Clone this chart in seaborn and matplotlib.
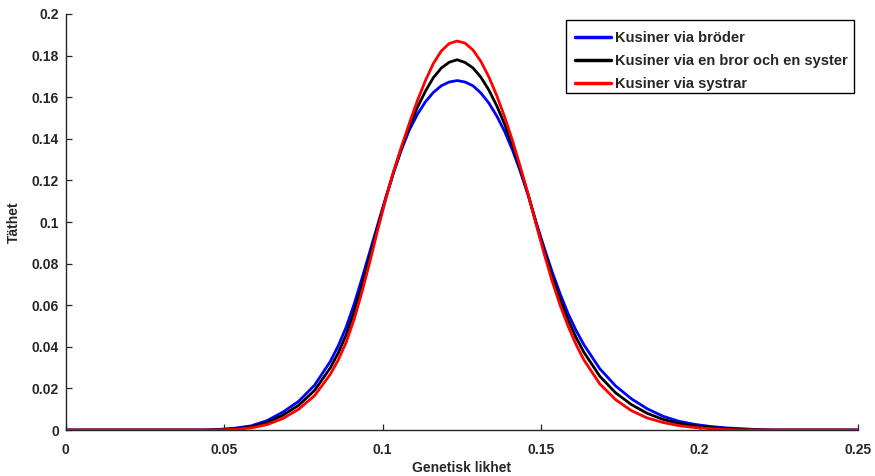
import numpy as np
import pandas as pd
import matplotlib
matplotlib.use("Agg")
import matplotlib.pyplot as plt
from matplotlib.patches import Rectangle
import seaborn as sns

# Genetic similarity grid (shared by all three curves)
x = [0.0, 0.0435, 0.0485, 0.0535, 0.0585, 0.0635, 0.0685, 0.0735, 0.0785,
     0.0835, 0.086, 0.0885, 0.091, 0.0935, 0.096, 0.0985, 0.101, 0.1035,
     0.106, 0.1085, 0.111, 0.1135, 0.116, 0.1185, 0.121, 0.1235,
     0.126, 0.1285, 0.131, 0.1335, 0.136, 0.1385, 0.141, 0.1435, 0.146,
     0.1485, 0.151, 0.1535, 0.156, 0.1585, 0.161, 0.1635,
     0.1685, 0.1735, 0.1785, 0.1835, 0.1885, 0.1935, 0.1985, 0.2035,
     0.2085, 0.2135, 0.2185, 0.2235, 0.25]

# Density for cousins through two brothers
broder = [0.0, 0.0, 0.0003, 0.0009, 0.0020, 0.0045, 0.0086, 0.0138, 0.0215,
          0.0330, 0.0405, 0.0495, 0.0605, 0.0730, 0.0860, 0.0990, 0.1118, 0.1240,
          0.1350, 0.1445, 0.1518, 0.1578, 0.1623, 0.1655, 0.1673, 0.1680,
          0.1673, 0.1655, 0.1620, 0.1572, 0.1510, 0.1435, 0.1345, 0.1240, 0.1125,
          0.0995, 0.0875, 0.0760, 0.0655, 0.0560, 0.0480, 0.0410,
          0.0295, 0.0212, 0.0150, 0.0102, 0.0066, 0.0042, 0.0027, 0.0017,
          0.0010, 0.0006, 0.0002, 0.0, 0.0]

# Density for cousins through a brother and a sister
bror_syster = [0.0, 0.0, 0.0001, 0.0006, 0.0015, 0.0036, 0.0071, 0.0119, 0.0190,
               0.0299, 0.0371, 0.0458, 0.0568, 0.0698, 0.0835, 0.0978, 0.1115, 0.1242,
               0.1358, 0.1462, 0.1552, 0.1629, 0.1694, 0.1740, 0.1768, 0.1780,
               0.1767, 0.1741, 0.1696, 0.1635, 0.1559, 0.1470, 0.1368, 0.1251, 0.1127,
               0.0990, 0.0860, 0.0738, 0.0628, 0.0530, 0.0446, 0.0374,
               0.0259, 0.0179, 0.0122, 0.0080, 0.0051, 0.0032, 0.0020, 0.0012,
               0.0006, 0.0003, 0.0001, 0.0, 0.0]

# Density for cousins through two sisters
systrar = [0.0, 0.0, 0.0, 0.0003, 0.0010, 0.0026, 0.0055, 0.0100, 0.0165,
           0.0268, 0.0337, 0.0422, 0.0532, 0.0665, 0.0810, 0.0965, 0.1112, 0.1245,
           0.1365, 0.1478, 0.1585, 0.1680, 0.1762, 0.1822, 0.1858, 0.1870,
           0.1860, 0.1827, 0.1772, 0.1698, 0.1608, 0.1505, 0.1390, 0.1262, 0.1128,
           0.0985, 0.0845, 0.0715, 0.0600, 0.0500, 0.0412, 0.0337,
           0.0222, 0.0146, 0.0093, 0.0058, 0.0036, 0.0021, 0.0012, 0.0006,
           0.0002, 0.0, 0.0, 0.0, 0.0]

labels = ["Kusiner via bröder",
          "Kusiner via en bror och en syster",
          "Kusiner via systrar"]
colors = ["#0000ff", "#000000", "#ff0000"]

x_ticks = [0, 0.05, 0.1, 0.15, 0.2, 0.25]
x_ticklabels = ["0", "0.05", "0.1", "0.15", "0.2", "0.25"]
y_ticks = [0, 0.02, 0.04, 0.06, 0.08, 0.1, 0.12, 0.14, 0.16, 0.18, 0.2]
y_ticklabels = ["0", "0.02", "0.04", "0.06", "0.08", "0.1", "0.12",
                "0.14", "0.16", "0.18", "0.2"]

df = pd.concat([
    pd.DataFrame({"x": x, "y": vals, "grupp": lab})
    for vals, lab in zip([broder, bror_syster, systrar], labels)
], ignore_index=True)

sns.set_style("white")
plt.rcParams["font.family"] = ["Liberation Sans", "DejaVu Sans"]
plt.rcParams["font.weight"] = "bold"

fig = plt.figure(figsize=(8.75, 4.76), dpi=100)
ax = fig.add_axes([0.0751, 0.0966, 0.9055, 0.874])

sns.lineplot(data=df, x="x", y="y", hue="grupp", hue_order=labels,
             palette=colors, estimator=None, sort=False, linewidth=2.0,
             ax=ax)

ax.set_xlim(0, 0.25)
ax.set_ylim(0, 0.2)
ax.set_xticks(x_ticks)
ax.set_xticklabels(x_ticklabels)
ax.set_yticks(y_ticks)
ax.set_yticklabels(y_ticklabels)

for side in ("top", "right"):
    ax.spines[side].set_visible(False)
for side in ("left", "bottom"):
    ax.spines[side].set_color("#262626")
    ax.spines[side].set_linewidth(1.0)

ax.tick_params(axis="x", direction="in", length=4.3, width=0.9,
               color="#262626", labelsize=10, pad=9,
               bottom=True, top=False)
ax.tick_params(axis="y", direction="in", length=4.3, width=0.9,
               color="#262626", labelsize=10, pad=5,
               left=True, right=False)
for lab in ax.get_xticklabels() + ax.get_yticklabels():
    lab.set_fontweight("bold")

ax.set_xlabel("Genetisk likhet", fontsize=10, fontweight="bold", labelpad=3)
ax.set_ylabel("Täthet", fontsize=10, fontweight="bold", labelpad=8)

# Legend box drawn as its own frame so the entries sit a little lower in it
frame = Rectangle((0.6469, 0.8046), 0.3291, 0.1534, transform=fig.transFigure,
                  facecolor="white", edgecolor="black", linewidth=1.0,
                  zorder=4)
ax.add_patch(frame)
frame.set_clip_on(False)

leg = ax.legend(loc="upper right", bbox_to_anchor=(0.995, 0.974),
                borderaxespad=0, frameon=False,
                handlelength=2.5, handletextpad=0.25, labelspacing=0.62,
                borderpad=0.45, prop={"size": 10.5, "weight": "bold"})
leg.set_zorder(5)
for line in leg.get_lines():
    line.set_linewidth(2.5)

fig.savefig("out.png", dpi=100)
